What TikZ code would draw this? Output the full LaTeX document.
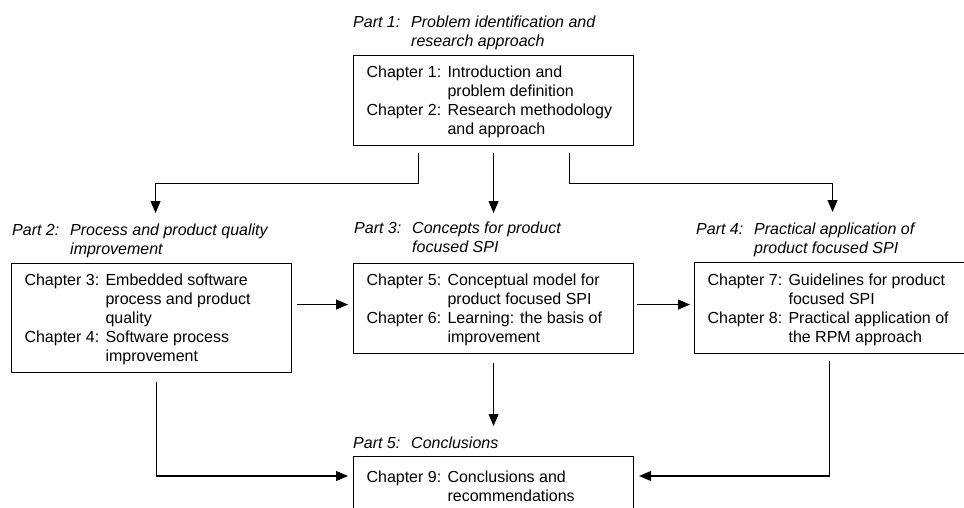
\documentclass[tikz,border=0pt]{standalone}
\usepackage{fontspec}
\setmainfont{Liberation Sans}
\usepackage{array}
\usetikzlibrary{arrows.meta}

\newcommand{\chaptab}[1]{\begin{tabular}{@{}p{81pt}@{}p{173pt}@{}}\noalign{\vskip4pt}#1\end{tabular}}
\newcommand{\parttab}[2]{\begin{tabular}[t]{@{}p{58pt}@{}l@{}}#1 & #2\end{tabular}}

\tikzset{
	chapbox/.style={draw=black,line width=1.1pt,anchor=north west,inner xsep=13pt,inner ysep=0pt,font=\fontsize{16}{19}\selectfont},
	partlabel/.style={anchor=base west,inner sep=0pt,font=\fontsize{16}{19}\selectfont\itshape},
	arr/.style={-{Triangle[length=12pt,width=10pt]},line width=1.1pt}
}

\begin{document}
\begin{tikzpicture}[x=1pt,y=-1pt]
		\useasboundingbox (0,0) rectangle (964,507);
		% part headings
		\node [partlabel] (P1) at (353,27) {\parttab{Part 1:}{Problem identification and\\ & research approach}};
		\node [partlabel] (P2) at (12,235) {\parttab{Part 2:}{Process and product quality\\ & improvement}};
		\node [partlabel] (P3) at (354,233) {\parttab{Part 3:}{Concepts for product\\ & focused SPI}};
		\node [partlabel] (P4) at (696,234) {\parttab{Part 4:}{Practical application of\\ & product focused SPI}};
		\node [partlabel] (P5) at (353,448) {\parttab{Part 5:}{Conclusions}};
		% chapter boxes
		\node [chapbox,minimum height=90pt] (B1) at (353,55) {\chaptab{Chapter 1: & Introduction and\\ & problem definition\\ Chapter 2: & Research methodology\\ & and approach}};
		\node [chapbox,minimum height=109pt] (B2) at (11,263) {\chaptab{Chapter 3: & Embedded software\\ & process and product\\ & quality\\ Chapter 4: & Software process\\ & improvement}};
		\node [chapbox,minimum height=90pt] (B3) at (353,263) {\chaptab{Chapter 5: & Conceptual model for\\ & product focused SPI\\ Chapter 6: & Learning: the basis of\\ & improvement}};
		\node [chapbox,minimum height=91pt] (B4) at (694,262) {\chaptab{Chapter 7: & Guidelines for product\\ & focused SPI\\ Chapter 8: & Practical application of\\ & the RPM approach}};
		\node [chapbox,minimum height=60pt] (B5) at (353,456) {\chaptab{Chapter 9: & Conclusions and\\ & recommendations}};
		% connectors
		\draw [arr,shorten <=7pt,shorten >=50pt] ([xshift=-75pt]B1.south) -- ++(0,37) -| ([xshift=4pt]B2.north);
		\draw [arr,shorten <=7pt,shorten >=50pt] (B1.south) -- (B3.north);
		\draw [arr,shorten <=7pt,shorten >=50pt] ([xshift=76pt]B1.south) -- ++(0,37) -| ([xshift=-2pt]B4.north);
		\draw [arr,shorten <=5pt,shorten >=5pt] ([yshift=4pt]B3.west -| B2.east) -- ([yshift=4pt]B3.west);
		\draw [arr,shorten <=3pt,shorten >=4pt] ([yshift=4pt]B3.east) -- ([yshift=4pt]B3.east -| B4.west);
		\draw [arr,shorten <=9pt,shorten >=30pt] (B3.south) -- (B5.north);
		\draw [arr,shorten <=9pt,shorten >=5pt] ([xshift=5pt]B2.south) |- ([yshift=-20pt]B5.north west);
		\draw [arr,shorten <=7pt,shorten >=5pt] ([xshift=-5pt]B4.south) |- ([yshift=-20pt]B5.north east);
	\end{tikzpicture}
\end{document}
